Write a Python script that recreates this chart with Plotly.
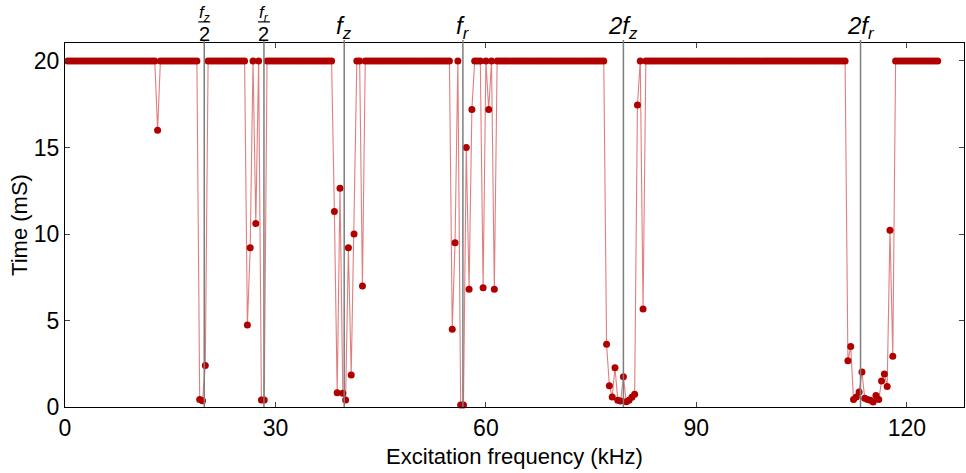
import plotly.graph_objects as go

# Excitation frequency grid (kHz), sweep step
freq_step = 0.4
n_points = 311
freq_khz = [round(freq_step * k, 1) for k in range(1, n_points + 1)]

# Measured time (mS); 20 is the ceiling value
time_ms = ([20] * 32 + [16.0] + [20] * 14 +
           [0.44, 0.36, 2.4] + [20] * 14 +
           [4.74, 9.2, 20, 10.6, 20, 0.4, 0.4] + [20] * 24 +
           [11.3, 0.83, 12.65, 0.8, 0.4, 9.2, 1.85, 10.0, 20, 20, 7.0] + [20] * 31 +
           [4.5, 9.5, 20, 0.12, 0.12, 15.0, 6.8, 17.2, 20, 20, 20, 6.9, 20, 17.2, 20, 6.8] + [20] * 39 +
           [3.62, 1.23, 0.58, 2.27, 0.39, 0.35, 1.75, 0.31, 0.39, 0.56, 0.73, 17.46, 20, 5.66] + [20] * 72 +
           [2.68, 3.49, 0.44, 0.58, 0.87, 2.02, 0.5, 0.44, 0.39, 0.29, 0.66, 0.44, 1.5, 1.91, 1.19, 10.21, 2.93] +
           [20] * 16)

# Resonance marker lines (kHz) and their labels
res_freqs = [19.85, 28.36, 39.8, 56.72, 79.6, 113.4]
res_kind = ["frac", "frac", "single", "single", "single", "single"]
res_top = ["<i>f<sub>z</sub></i>", "<i>f<sub>r</sub></i>", "<i>f<sub>z</sub></i>",
           "<i>f<sub>r</sub></i>", "<i>2f<sub>z</sub></i>", "<i>2f<sub>r</sub></i>"]
res_den = ["2", "2", "", "", "", ""]

x_ticks = [0, 30, 60, 90, 120]
y_ticks = [0, 5, 10, 15, 20]

FONT = "Liberation Sans, Arial, sans-serif"

fig = go.Figure()
fig.add_trace(go.Scatter(
    x=freq_khz, y=time_ms, mode="lines+markers",
    line=dict(color="rgba(200,20,20,0.55)", width=1.1),
    marker=dict(color="rgb(176,0,0)", size=7),
    cliponaxis=False, showlegend=False,
))

shapes = []
annots = []
for f, kind, top, den in zip(res_freqs, res_kind, res_top, res_den):
    shapes.append(dict(type="line", xref="x", yref="paper", x0=f, x1=f, y0=0, y1=1.008,
                       line=dict(color="rgb(125,125,125)", width=1.5), layer="above"))
    if kind == "frac":
        annots.append(dict(x=f, y=1.081, xref="x", yref="paper", text=top, showarrow=False,
                           font=dict(size=17, color="black", family=FONT), yanchor="middle"))
        annots.append(dict(x=f, y=1.026, xref="x", yref="paper", text=den, showarrow=False,
                           font=dict(size=20, color="black", family=FONT), yanchor="middle"))
        shapes.append(dict(type="line", xref="x", yref="paper", x0=f - 0.85, x1=f + 0.85,
                           y0=1.058, y1=1.058, line=dict(color="black", width=1.2)))
    else:
        annots.append(dict(x=f, y=1.043, xref="x", yref="paper", text=top, showarrow=False,
                           font=dict(size=24, color="black", family=FONT), yanchor="middle"))

fig.update_layout(
    width=966, height=473,
    margin=dict(l=65, r=2, t=43, b=66, autoexpand=False),
    plot_bgcolor="white", paper_bgcolor="white",
    font=dict(family=FONT, color="black"),
    shapes=shapes, annotations=annots,
    xaxis=dict(range=[0, 128.15], tickvals=x_ticks, ticks="inside", ticklen=5,
               showline=True, mirror="ticks", linecolor="black", linewidth=1.2,
               showgrid=False, zeroline=False, tickfont=dict(size=23), automargin=False,
               title=dict(text="Excitation frequency (kHz)", font=dict(size=22), standoff=8)),
    yaxis=dict(range=[0, 21.04], tickvals=y_ticks, ticks="inside", ticklen=5,
               showline=True, mirror="ticks", linecolor="black", linewidth=1.2,
               showgrid=False, zeroline=False, tickfont=dict(size=23), automargin=False,
               title=dict(text="Time (mS)", font=dict(size=22), standoff=0)),
)

fig.write_html("out.html", config={"displayModeBar": False},
               post_script="document.body.style.margin='0';document.body.style.overflow='hidden';")
